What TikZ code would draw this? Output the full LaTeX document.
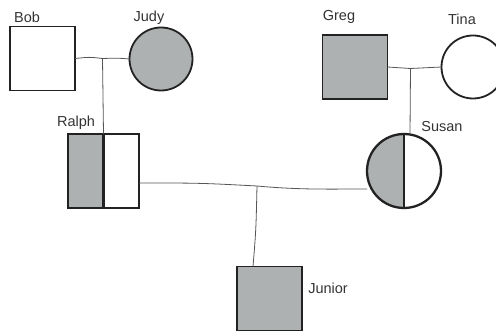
\documentclass[tikz,border=0pt]{standalone}
\usepackage{fontspec}
\setmainfont{Liberation Sans}
\definecolor{affected}{HTML}{AEB1B1}
\definecolor{edge}{HTML}{222222}
\definecolor{conn}{HTML}{555555}
\definecolor{txt}{HTML}{333333}
\begin{document}
\begin{tikzpicture}[x=1pt,y=-1pt,
  person/.style={draw=edge,line width=1.8pt,inner sep=0pt,outer sep=0pt},
  male/.style={person,rectangle,minimum width=65pt,minimum height=64pt},
  female/.style={person,circle,minimum size=63pt},
  filled/.style={fill=affected},
  carrier/.style={line width=2.3pt,path picture={\fill[affected] (path picture bounding box.south west) rectangle (path picture bounding box.north);}},
  namelabel/.style={text=txt,font=\fontsize{14.5}{16}\selectfont,inner sep=0pt},
  link/.style={draw=conn,line width=0.8pt}]
\useasboundingbox (0,0) rectangle (496,331);
% persons
\node[male] (bob) at (42.5,58.5) {};
\node[female,filled] (judy) at (161,59) {};
\node[male,filled] (greg) at (355,67) {};
\node[female] (tina) at (473,67) {};
\node[male,carrier,minimum width=71pt,minimum height=74pt] (ralph) at (103.5,171) {};
\draw[edge,line width=2.3pt] (ralph.north) -- (ralph.south);
\node[female,carrier,minimum size=74pt] (susan) at (404,171) {};
\draw[edge,line width=2pt] (susan.north) -- (susan.south);
\node[male,filled] (junior) at (269.5,298.5) {};
% labels
\node[namelabel] (lbob) at (27,17) {Bob};
\node[namelabel] (ljudy) at (149,18) {Judy};
\node[namelabel] (lralph) at (76,123) {Ralph};
\node[namelabel] (lgreg) at (339,17) {Greg};
\node[namelabel] (ltina) at (462,19) {Tina};
\node[namelabel] (lsusan) at (442,127) {Susan};
\node[namelabel] (ljunior) at (328,288) {Junior};
% connectors
\coordinate (m1) at (102.5,58.5);
\coordinate (m2) at (410.5,68.5);
\coordinate (m3) at (257,186);
\coordinate (susantop) at (410,134.5);
\coordinate (juniortop) at (253,266.5);
\draw[link] (bob.east) .. controls (90,57) .. (m1) .. controls (118,58) .. (judy.west);
\draw[link] (m1) -- (ralph.north);
\draw[link] (greg.east) -- (m2) -- (tina.west);
\draw[link] (m2) -- (susantop);
\draw[link] (ralph.east |- 0,183) .. controls (200,183) .. (m3) .. controls (300,190) and (330,189) .. (susan.west |- 0,189);
\draw[link] (m3) .. controls (256,230) .. (juniortop);
\end{tikzpicture}
\end{document}
